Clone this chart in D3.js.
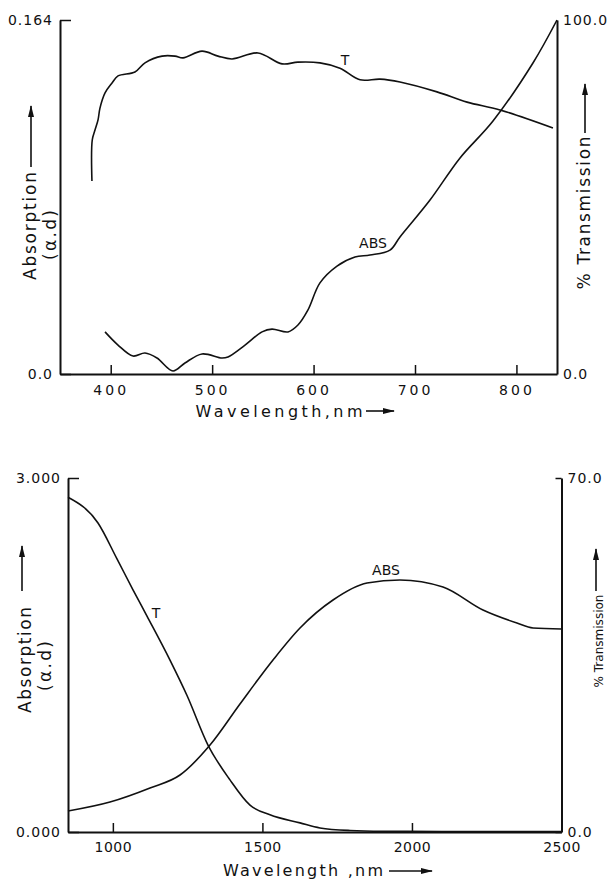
<!DOCTYPE html>
<html>
<head>
<meta charset="utf-8">
<script src="https://cdn.jsdelivr.net/npm/d3@7/dist/d3.min.js"></script>
<style>
  body { margin: 0; background: #fff; }
  svg text { font-family: "DejaVu Sans", sans-serif; fill: #111; }
</style>
</head>
<body>
<svg id="chart" width="608" height="884"></svg>
<script>
// visible range (top panel)
var visTicks = [400, 500, 600, 700, 800];
var visWaveT = [381.5, 381.8, 384.5, 387.5, 389.4, 394.4, 401.3, 407.2, 423.9, 433.8, 450.6, 463.4, 471.3, 490, 505.8, 519.6, 545.2, 568.9, 584.6, 606.3, 626, 645.8, 665.5, 685.2, 721.7, 751.3, 783.8, 836];
var visTrans = [54.5, 66.1, 68.9, 71.8, 75.1, 79.4, 82.2, 84.2, 85.3, 87.9, 89.8, 89.8, 89.3, 91.2, 89.8, 89.0, 90.7, 87.6, 88.1, 87.9, 86.4, 83.1, 83.3, 82.5, 79.7, 76.8, 74.6, 69.5];
var visWaveAbs = [394.4, 407.2, 422, 433.8, 445.6, 461.4, 473.2, 490, 509.7, 515.6, 532.4, 549.2, 559, 574.8, 584.6, 594.5, 606.3, 623.1, 640.8, 655.6, 675.3, 685.2, 714.8, 744.4, 776.9, 816.3, 840];
var visAbs = [0.0195, 0.0134, 0.0083, 0.0097, 0.0074, 0.0014, 0.0051, 0.0093, 0.0074, 0.0079, 0.0134, 0.0195, 0.0208, 0.0195, 0.0227, 0.0297, 0.0422, 0.0500, 0.0542, 0.0551, 0.0574, 0.0635, 0.0806, 0.1001, 0.1172, 0.1441, 0.164];

// near infrared (bottom panel)
var nirTicks = [1000, 1500, 2000, 2500];
var nirWaveT = [850, 950.3, 1013.8, 1067.3, 1114.1, 1191, 1247.9, 1318, 1391.6, 1458.5, 1525.3, 1625.7, 1692.5, 1792.8, 1903, 2100, 2300, 2500];
var nirTrans = [66.2, 61.1, 54.0, 47.9, 42.7, 34.0, 27.0, 17.2, 10.3, 5.3, 3.4, 1.8, 0.8, 0.3, 0.15, 0.1, 0.1, 0.1];
var nirWaveAbs = [850, 990.4, 1124.2, 1224.5, 1324.8, 1425, 1535.4, 1625.7, 1736, 1849.7, 1960, 2103.8, 2237.5, 2351, 2404.7, 2500];
var nirAbs = [0.178, 0.254, 0.373, 0.483, 0.737, 1.085, 1.458, 1.729, 1.966, 2.110, 2.136, 2.076, 1.881, 1.771, 1.729, 1.720];

var svg = d3.select('#chart');

// arrowhead for the axis titles
svg.append('defs').append('marker')
  .attr('id', 'head')
  .attr('markerUnits', 'userSpaceOnUse')
  .attr('markerWidth', 12).attr('markerHeight', 6)
  .attr('refX', 11).attr('refY', 3)
  .attr('orient', 'auto')
  .append('path')
  .attr('d', 'M0,0L12,3L0,6Z')
  .attr('fill', '#111');

function arrow(g, x1, y1, x2, y2) {
  g.append('line')
    .attr('x1', x1).attr('y1', y1).attr('x2', x2).attr('y2', y2)
    .attr('stroke', '#111').attr('stroke-width', 1.6)
    .attr('marker-end', 'url(#head)');
}

function vtext(g, x, y, len, size, txt, adjust) {
  g.append('text')
    .attr('transform', 'translate(' + x + ',' + y + ') rotate(-90)')
    .attr('text-anchor', 'middle')
    .attr('textLength', len)
    .attr('lengthAdjust', adjust || 'spacing')
    .style('font-size', size + 'px')
    .text(txt);
}

function panel(p) {
  var g = svg.append('g');
  var x = d3.scaleLinear().domain(p.xDomain).range([p.left, p.right]);
  var yAbs = d3.scaleLinear().domain([0, p.absMax]).range([p.bottom, p.top]);
  var yT = d3.scaleLinear().domain([0, p.tMax]).range([p.bottom, p.top]);

  var xAxis = g.append('g')
    .attr('transform', 'translate(0,' + p.bottom + ')')
    .call(d3.axisBottom(x).tickValues(p.ticks).tickFormat(d3.format('d'))
      .tickSizeInner(-9).tickSizeOuter(0).tickPadding(p.xPad));
  xAxis.selectAll('text').style('font-size', '14px').style('letter-spacing', p.xSpacing + 'px');

  var lAxis = g.append('g')
    .attr('transform', 'translate(' + p.left + ',0)')
    .call(d3.axisLeft(yAbs).tickValues([0, p.absMax]).tickFormat(p.absFmt)
      .tickSizeInner(-11).tickSizeOuter(0).tickPadding(7));
  lAxis.selectAll('text').style('font-size', '14px').style('letter-spacing', '1px');

  var rAxis = g.append('g')
    .attr('transform', 'translate(' + p.right + ',0)')
    .call(d3.axisRight(yT).tickValues([0, p.tMax]).tickFormat(d3.format('.1f'))
      .tickSizeInner(p.rTick).tickSizeOuter(0).tickPadding(6));
  rAxis.selectAll('text').style('font-size', '14px').style('letter-spacing', '1px');

  g.selectAll('.domain').attr('stroke', '#111').attr('stroke-width', 2);
  g.selectAll('.tick line').attr('stroke', '#111').attr('stroke-width', 1.5);

  var absLine = d3.line()
    .x(d => x(d[0])).y(d => yAbs(d[1]))
    .curve(p.curve);
  var tLine = d3.line()
    .x(d => x(d[0])).y(d => yT(d[1]))
    .curve(p.curve);

  g.append('path')
    .datum(d3.zip(p.waveAbs, p.abs))
    .attr('d', absLine)
    .attr('fill', 'none').attr('stroke', '#111').attr('stroke-width', 1.6);
  g.append('path')
    .datum(d3.zip(p.waveT, p.trans))
    .attr('d', tLine)
    .attr('fill', 'none').attr('stroke', '#111').attr('stroke-width', 1.6);

  // curve labels
  p.marks.forEach(function (m) {
    g.append('text')
      .attr('x', m[0]).attr('y', m[1])
      .attr('text-anchor', 'middle')
      .style('font-size', '14px')
      .text(m[2]);
  });

  // axis titles
  var t = p.titles;
  g.append('text')
    .attr('x', t.wave[0]).attr('y', t.wave[1])
    .attr('text-anchor', 'middle')
    .attr('textLength', t.wave[2]).attr('lengthAdjust', 'spacing')
    .style('font-size', t.wave[4] + 'px')
    .text(t.wave[3]);
  arrow(g, t.waveArrow[0], t.waveArrow[1], t.waveArrow[2], t.waveArrow[1]);

  vtext(g, t.abs[0], t.abs[1], t.abs[2], t.abs[3], 'Absorption');
  vtext(g, t.ad[0], t.ad[1], t.ad[2], t.ad[3], '(α.d)');
  arrow(g, t.absArrow[0], t.absArrow[1], t.absArrow[0], t.absArrow[2]);

  vtext(g, t.trans[0], t.trans[1], t.trans[2], t.trans[3], '% Transmission', t.trans[4]);
  arrow(g, t.transArrow[0], t.transArrow[1], t.transArrow[0], t.transArrow[2]);
}

panel({
  left: 60, right: 557, top: 20, bottom: 374,
  xDomain: [350, 840], ticks: visTicks, xPad: 11, xSpacing: 3,
  absMax: 0.164, absFmt: d => d === 0 ? '0.0' : '0.164',
  tMax: 100, rTick: 0, curve: d3.curveCatmullRom.alpha(0.5),
  waveT: visWaveT, trans: visTrans, waveAbs: visWaveAbs, abs: visAbs,
  marks: [[345, 65, 'T'], [373, 248, 'ABS']],
  titles: {
    wave: [279, 417, 167, 'Wavelength,nm', 16], waveArrow: [366, 411, 394],
    abs: [36, 226, 108, 17], ad: [56, 235, 50, 17], absArrow: [31, 167, 106],
    trans: [590, 213, 153, 17], transArrow: [585, 133, 84]
  }
});

panel({
  left: 68, right: 561.5, top: 478, bottom: 832,
  xDomain: [850, 2500], ticks: nirTicks, xPad: 10, xSpacing: 0.5,
  absMax: 3, absFmt: d3.format('.3f'),
  tMax: 70, rTick: -6, curve: d3.curveMonotoneX,
  waveT: nirWaveT, trans: nirTrans, waveAbs: nirWaveAbs, abs: nirAbs,
  marks: [[156, 618, 'T'], [386, 575, 'ABS']],
  titles: {
    wave: [303, 876, 160, 'Wavelength ,nm', 16], waveArrow: [389, 871, 432],
    abs: [31, 660, 106, 17], ad: [51, 666, 50, 17], absArrow: [22, 591, 546],
    trans: [603, 641, 93, 13, 'spacingAndGlyphs'], transArrow: [596, 591, 549]
  }
});
</script>
</body>
</html>
